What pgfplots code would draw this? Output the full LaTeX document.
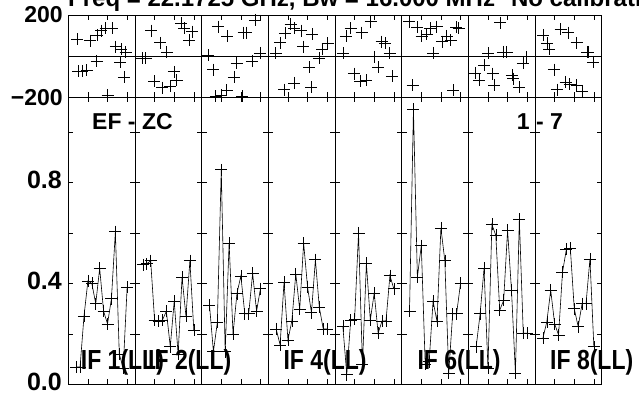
\documentclass[border=0pt]{standalone}
\usepackage{fontspec}
\setmainfont{Liberation Sans}
\usepackage{pgfplots}
\pgfplotsset{compat=1.18}

\pgfplotsset{
  panel/.style={scale only axis, width=66.675bp, xmin=0, xmax=17,
    xtick={5,10,15}, xticklabels={}, tick align=inside,
    major tick length=5bp,
    axis line style={black, line width=0.8bp},
    every tick/.style={black, line width=0.6bp},
    tick label style={font=\bfseries\fontsize{23bp}{23bp}\selectfont},
    clip=false},
  ph/.style={panel, height=82.3bp, ymin=-200, ymax=200,
    ytick={-200,200}, yticklabels={}, ytick style={draw=none},
    extra y ticks={0}, extra y tick labels={},
    extra y tick style={grid=major, major grid style={black, line width=0.6bp}, ytick style={draw=none}}},
  am/.style={panel, height=287.2bp, ymin=0, ymax=1.137,
    ytick={0,0.2,0.4,0.6,0.8,1.0}, yticklabels={}},
  pts/.style={black, only marks, mark=+, mark size=6bp, mark options={line width=0.6bp}},
  ln/.style={black, line width=0.6bp, mark=+, mark size=6bp, mark options={line width=0.6bp}},
}
\newcommand{\phpanel}[3]{%
  \begin{axis}[ph, at={(#1,299.7bp)}, anchor=south west, #2]
    \addplot[pts] coordinates {#3};
  \end{axis}}
\newcommand{\ampanel}[3]{%
  \begin{axis}[am, at={(#1,12.5bp)}, anchor=south west, #2]
    \addplot[ln] coordinates {#3};
  \end{axis}}

\begin{document}
\begin{tikzpicture}
\useasboundingbox (0,0) rectangle (639bp,397bp);

% ---------- phase panels ----------
\phpanel{68.3bp}{yticklabels={\char"2212 200,200}, yticklabel style={xshift=-2bp}}{(2.3,81) (2.5,-73) (3.6,-72) (4.7,-68) (5.5,75) (7.2,-23) (7.4,102) (8.4,124) (9.5,135) (10.0,-190) (11.2,135) (12.1,46) (13.2,-28) (13.4,33) (14.2,-101) (14.6,21)}
\phpanel{134.98bp}{}{(1.9,-11) (2.7,-11) (4.2,124) (4.9,-121) (6.4,65) (6.9,-153) (8.1,21) (8.9,-147) (9.9,-76) (10.6,-117) (11.7,159) (12.5,135) (13.8,78) (14.6,119)}
\phpanel{201.65bp}{}{(1.6,5) (3.0,-65) (4.15,143) (6.5,98) (3.6,-195) (4.9,-190) (6.4,-166) (8.2,-101) (8.9,-33) (10.3,-195) (10.7,114) (11.4,114) (12.8,-23) (13.7,176) (15.0,16)}
\phpanel{268.33bp}{}{(1.9,13) (3.0,65) (4.2,111) (5.7,156) (6.6,135) (8.3,124) (8.9,46) (11.2,107) (10.4,-55) (12.9,-11) (13.8,33) (15.1,62) (4.0,-163) (6.6,-130) (11.0,-150)}
\phpanel{335.0bp}{}{(2.0,13) (2.8,98) (4.0,135) (4.8,-85) (6.8,114) (6.4,-120) (7.9,-117) (9.1,167) (9.9,-3) (11.0,-55) (11.9,70) (12.8,62) (13.9,16) (14.5,-98)}
\phpanel{401.68bp}{}{(1.9,167) (4.0,140) (5.1,98) (6.4,107) (7.2,135) (8.9,143) (10.4,70) (11.5,98) (12.5,78) (13.9,140) (14.5,135) (8.1,16) (2.8,-141) (13.2,-166)}
\phpanel{468.35bp}{}{(8.1,163) (5.1,13) (8.8,21) (9.8,21) (14.9,-3) (13.9,-33) (4.0,-44) (1.7,-81) (2.8,-117) (6.2,-85) (6.6,-141) (11.1,-93) (11.5,-109) (13.0,-150)}
\phpanel{535.03bp}{}{(2.1,102) (3.0,62) (3.6,33) (6.5,130) (8.5,114) (10.6,65) (13.2,21) (13.6,21) (14.9,-28) (4.8,-65) (5.6,-163) (7.8,-125) (8.8,-137) (10.6,-141) (12.1,-169)}

% ---------- amplitude panels ----------
\ampanel{68.3bp}{yticklabels={0.0,,0.4,,0.8,}, yticklabel style={font=\bfseries\fontsize{25bp}{25bp}\selectfont, xshift=-3bp, yshift=2.5bp}}{(2,0.07) (3,0.07) (4,0.27) (5,0.41) (6,0.40) (7,0.32) (8,0.46) (9,0.29) (10,0.24) (11,0.34) (12,0.605) (13,0.12) (14,0.065) (15,0.385)}
\ampanel{134.98bp}{}{(2,0.475) (3,0.478) (4,0.49) (5,0.255) (6,0.25) (7,0.255) (8,0.29) (9,0.15) (10,0.33) (11,0.12) (12,0.425) (13,0.27) (14,0.49) (15,0.215)}
\ampanel{201.65bp}{}{(2,0.314) (3,0.13) (4,0.246) (5,0.85) (6,0.13) (7,0.56) (8,0.20) (9,0.36) (10,0.43) (11,0.28) (12,0.28) (13,0.44) (14,0.29) (15,0.38)}
\ampanel{268.33bp}{}{(2,0.22) (3,0.157) (4,0.405) (5,0.176) (6,0.252) (7,0.438) (8,0.297) (9,0.56) (10,0.386) (11,0.284) (12,0.494) (13,0.305) (14,0.22) (15,0.22)}
\ampanel{335.0bp}{}{(2,0.231) (3,0.039) (4,0.255) (5,0.259) (6,0.60) (7,0.078) (8,0.48) (9,0.255) (10,0.362) (11,0.203) (12,0.252) (13,0.252) (14,0.431) (15,0.379)}
\ampanel{401.68bp}{}{(2,0.29) (3,1.09) (4,0.425) (5,0.55) (6,0.08) (7,0.09) (8,0.33) (9,0.25) (10,0.62) (11,0.49) (12,0.046) (13,0.28) (14,0.28) (15,0.40)}
\ampanel{468.35bp}{}{(2,0.15) (3,0.28) (4,0.46) (5,0.065) (6,0.634) (7,0.59) (8,0.294) (9,0.333) (10,0.61) (11,0.373) (12,0.046) (13,0.654) (14,0.203) (15,0.203)}
\ampanel{535.03bp}{}{(2,0.183) (3,0.248) (4,0.373) (5,0.24) (6,0.196) (7,0.444) (8,0.536) (9,0.54) (10,0.30) (11,0.229) (12,0.32) (13,0.32) (14,0.497) (15,0.15)}

% ---------- texts ----------
\tikzset{lab/.style={anchor=base west, inner sep=0pt, font=\bfseries\fontsize{23bp}{23bp}\selectfont},
         iflab/.style={lab, yscale=1.2}}
\node[lab, font=\bfseries\fontsize{24bp}{24bp}\selectfont] at (68bp,390bp) {Freq = 22.1725 GHz, Bw = 16.000 MHz\hspace{16bp}No calibration};
\node[lab] at (92bp,267bp) {EF - ZC};
\node[lab] at (516.7bp,267bp) {1 - 7};
\node[iflab] at (80.7bp,28bp) {IF 1(LL)};
\node[iflab] at (148bp,28bp) {IF 2(LL)};
\node[iflab] at (283.3bp,28bp) {IF 4(LL)};
\node[iflab] at (417.3bp,28bp) {IF 6(LL)};
\node[iflab] at (550bp,28bp) {IF 8(LL)};
\end{tikzpicture}
\end{document}
